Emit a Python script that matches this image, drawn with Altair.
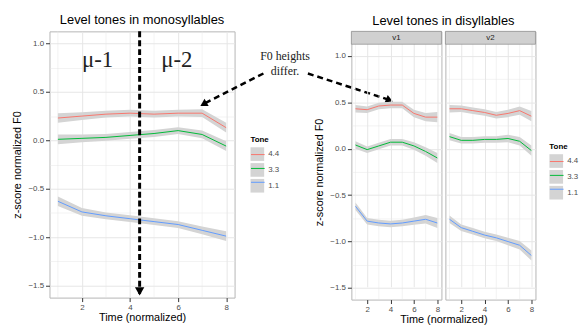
import altair as alt
import pandas as pd

# ---------------- data ----------------
time = [1, 2, 3, 4, 5, 6, 7, 8]
tones = ["4.4", "3.3", "1.1"]
tone_colors = ["#F8766D", "#00BA38", "#619CFF"]
syllables = ["v1", "v2"]

mono_44 = [0.23, 0.25, 0.27, 0.28, 0.27, 0.28, 0.28, 0.13]
mono_33 = [0.01, 0.02, 0.03, 0.05, 0.07, 0.10, 0.06, -0.06]
mono_11 = [-0.63, -0.74, -0.78, -0.81, -0.84, -0.87, -0.93, -0.99]
mono_se = [0.05, 0.04, 0.035, 0.035, 0.035, 0.035, 0.04, 0.05]

v1_44 = [0.43, 0.42, 0.46, 0.47, 0.47, 0.38, 0.34, 0.34]
v1_33 = [0.04, -0.01, 0.03, 0.07, 0.07, 0.03, -0.03, -0.10]
v1_11 = [-0.62, -0.78, -0.80, -0.81, -0.80, -0.78, -0.76, -0.80]
v2_44 = [0.43, 0.43, 0.41, 0.39, 0.36, 0.38, 0.41, 0.35]
v2_33 = [0.13, 0.09, 0.09, 0.10, 0.10, 0.11, 0.08, -0.02]
v2_11 = [-0.76, -0.85, -0.89, -0.93, -0.96, -1.00, -1.04, -1.15]
di_se = [0.04, 0.035, 0.035, 0.035, 0.035, 0.04, 0.045, 0.055]

x_major = [2, 4, 6, 8]
x_minor = [1, 3, 5, 7]
y_ticks = [-1.5, -1.25, -1.0, -0.75, -0.5, -0.25, 0.0, 0.25, 0.5, 0.75, 1.0]

boundary_x = [4.4]
mu_labels = ["\u03bc-1", "\u03bc-2"]
mu_x = [2.65, 5.95]
mu_y = [0.83, 0.83]
note_lines = ["F0 heights", "differ."]
note_x = [10.45, 10.45]
note_y = [0.87, 0.72]
arrow_x0 = [9.55, 11.4]
arrow_y0 = [0.69, 0.69]
arrow_x1 = [7.1, 14.75]
arrow_y1 = [0.38, 0.42]
arrow_angle = [240, 112]


def build(series, se):
    rows = []
    for tone, vals in zip(tones, series):
        for t, v, s in zip(time, vals, se):
            rows.append({"Time": t, "Tone": tone, "ToneKey": tone, "F0": v,
                         "lo": v - s, "hi": v + s})
    return pd.DataFrame(rows)


df_mono = build([mono_44, mono_33, mono_11], mono_se)
df_v1 = build([v1_44, v1_33, v1_11], di_se)
df_v2 = build([v2_44, v2_33, v2_11], di_se)

df_boundary = pd.DataFrame({"x": boundary_x, "top": [1.125], "bot": [-1.585], "head": [-1.56]})
df_mu = pd.DataFrame({"label": mu_labels, "x": mu_x, "y": mu_y})
df_note = pd.DataFrame({"label": note_lines, "x": note_x, "y": note_y})
df_arrow = pd.DataFrame({"x0": arrow_x0, "y0": arrow_y0, "x1": arrow_x1,
                         "y1": arrow_y1, "angle": arrow_angle})
df_xminor = pd.DataFrame({"x": x_minor})

# ---------------- styling helpers ----------------
FONT = "Liberation Sans"
SERIF = "Liberation Serif"
GRID = "#e6e6e6"
LEFT_W = 187
LEFT_H = 269
PANEL_W = 91
RIGHT_H = 271
STRIP = 13
x_scale = alt.Scale(domain=[0.65, 8.35], nice=False, zero=False)
y_scale = alt.Scale(domain=[-1.625, 1.125], nice=False, zero=False)
y_scale_r = alt.Scale(domain=[-1.625, 1.125], nice=False, zero=False, range=[RIGHT_H, STRIP])

minor_y = "abs(datum.value * 2 - round(datum.value * 2)) > 0.01"
AX = dict(domain=False, tickColor="#333333", tickSize=4, labelColor="#4d4d4d",
          labelFontSize=8, labelFont=FONT, labelOverlap=False, labelFlush=False,
          titleFont=FONT, titleFontSize=11, titleFontWeight="normal",
          titleColor="#000000", gridColor=GRID, tickCount=30)


def x_axis(title="Time (normalized)", **kw):
    return alt.Axis(values=x_major, title=title, format="d", labelPadding=2,
                    titlePadding=0, gridWidth=1, **AX, **kw)


def y_axis(title="z-score normalized F0", show=True, **kw):
    cond = dict(
        tickOpacity={"condition": {"test": minor_y, "value": 0}, "value": 1},
        gridWidth={"condition": {"test": minor_y, "value": 0.5}, "value": 1},
    )
    if show:
        return alt.Axis(values=y_ticks, title=title, labelPadding=2,
                        labelExpr="abs(datum.value * 2 - round(datum.value * 2)) > 0.01 ? '' : format(datum.value, '.1f')",
                        **cond, **AX, **kw)
    return alt.Axis(values=y_ticks, title=None, labels=False, ticks=False,
                    gridWidth=cond["gridWidth"], **{k: v for k, v in AX.items()
                                                    if not k.startswith("label")})


def legends(lx, ly):
    common = dict(orient="none", legendX=lx, symbolSize=190, rowPadding=2,
                  labelFontSize=8, labelFont=FONT, labelOffset=4)
    fill_leg = alt.Legend(legendY=ly, title="Tone", symbolType="square",
                          symbolStrokeWidth=0, labelColor="#4d4d4d",
                          titleColor="#000000", titleFontSize=8, titleFont=FONT,
                          titleFontWeight="bold", titlePadding=3, **common)
    stroke_leg = alt.Legend(legendY=ly + 11, title=None, symbolType="stroke",
                            symbolStrokeWidth=1, labelExpr="''", **common)
    return fill_leg, stroke_leg


def series_layers(df, legpos, xa, ya, ys):
    if legpos:
        fl, sl = legends(*legpos)
    else:
        fl, sl = None, None
    base = alt.Chart(df)
    rib = base.mark_area(color="#d4d4d4").encode(
        x=alt.X("Time:Q", scale=x_scale, axis=xa),
        y=alt.Y("lo:Q", scale=ys, axis=ya),
        y2="hi:Q",
        fill=alt.Fill("Tone:N", sort=tones,
                      scale=alt.Scale(range=["#d4d4d4", "#d4d4d4", "#d4d4d4"]),
                      legend=fl),
        detail="Tone:N",
    )
    line = base.mark_line(strokeWidth=1).encode(
        x=alt.X("Time:Q", scale=x_scale),
        y=alt.Y("F0:Q", scale=ys),
        stroke=alt.Stroke("ToneKey:N", sort=tones,
                          scale=alt.Scale(range=tone_colors), legend=sl),
        detail="Tone:N",
    )
    return rib, line


def title(text, dx=0):
    return alt.TitleParams(text, font=FONT, fontSize=13, fontWeight="normal",
                           color="#000000", offset=3, anchor="middle", frame="group",
                           dx=dx)


def minor_grid(h, top=0):
    return alt.Chart(df_xminor).mark_rule(color=GRID, strokeWidth=0.5).encode(
        x=alt.X("x:Q", scale=x_scale), y=alt.value(top), y2=alt.value(h))


# ---------------- left chart ----------------
rib_m, line_m = series_layers(df_mono, (203, 106), x_axis(), y_axis(titlePadding=5), y_scale)

bound_rule = alt.Chart(df_boundary).mark_rule(
    color="black", strokeWidth=3, strokeDash=[6, 3]).encode(
    x=alt.X("x:Q", scale=x_scale), y=alt.Y("top:Q", scale=y_scale), y2="bot:Q")
bound_head = alt.Chart(df_boundary).mark_point(
    shape="triangle-down", filled=True, color="black", size=90, opacity=1).encode(
    x=alt.X("x:Q", scale=x_scale), y=alt.Y("head:Q", scale=y_scale))

mu_text = alt.Chart(df_mu).mark_text(
    font=SERIF, fontSize=23, color="#222222").encode(
    x=alt.X("x:Q", scale=x_scale), y=alt.Y("y:Q", scale=y_scale), text="label:N")

note_text = alt.Chart(df_note).mark_text(
    font=SERIF, fontSize=12, color="#222222").encode(
    x=alt.X("x:Q", scale=x_scale), y=alt.Y("y:Q", scale=y_scale), text="label:N")

arrow_rule = alt.Chart(df_arrow).mark_rule(
    color="black", strokeWidth=2.5, strokeDash=[6, 4]).encode(
    x=alt.X("x0:Q", scale=x_scale), y=alt.Y("y0:Q", scale=y_scale),
    x2="x1:Q", y2="y1:Q")
arrow_head = alt.Chart(df_arrow).mark_point(
    shape="triangle", filled=True, color="black", size=70, opacity=1).encode(
    x=alt.X("x1:Q", scale=x_scale), y=alt.Y("y1:Q", scale=y_scale),
    angle=alt.Angle("angle:Q", scale=None))

left = alt.layer(minor_grid(LEFT_H), rib_m, line_m, bound_rule, bound_head, mu_text,
                 note_text, arrow_rule, arrow_head).properties(
    width=LEFT_W, height=LEFT_H, title=title("Level tones in monosyllables"),
).resolve_scale(fill="independent", stroke="independent")


# ---------------- right panels ----------------
def strip(label):
    df_s = pd.DataFrame({"label": [label]})
    rect = alt.Chart(df_s).mark_rect(fill="#d0d0d0", stroke="#8a8a8a", strokeWidth=0.7).encode(
        x=alt.value(0), x2=alt.value(PANEL_W), y=alt.value(0), y2=alt.value(STRIP))
    txt = alt.Chart(df_s).mark_text(font=FONT, fontSize=8, color="#1a1a1a").encode(
        x=alt.value(PANEL_W / 2), y=alt.value(STRIP / 2 + 0.5), text="label:N")
    return rect, txt


rib_1, line_1 = series_layers(
    df_v1, None,
    x_axis(titleX=PANEL_W + 2, titleAlign="center", titleAnchor="start"),
    y_axis(titlePadding=5), y_scale_r)
s1r, s1t = strip(syllables[0])
v1 = alt.layer(minor_grid(RIGHT_H, STRIP), rib_1, line_1, s1r, s1t).properties(
    width=PANEL_W, height=RIGHT_H, title=title("Level tones in disyllables", dx=PANEL_W / 2 + 2),
).resolve_scale(fill="independent", stroke="independent")

rib_2, line_2 = series_layers(df_v2, (105, 113), x_axis(title=None),
                              y_axis(show=False), y_scale_r)
s2r, s2t = strip(syllables[1])
v2 = alt.layer(minor_grid(RIGHT_H, STRIP), rib_2, line_2, s2r, s2t).properties(
    width=PANEL_W, height=RIGHT_H,
).resolve_scale(fill="independent", stroke="independent")

right = alt.hconcat(v1, v2, spacing=4, bounds="flush").resolve_scale(
    fill="independent", stroke="independent").resolve_legend(
    fill="independent", stroke="independent")

chart = alt.hconcat(left, right, spacing=118, bounds="flush").resolve_scale(
    fill="independent", stroke="independent").resolve_legend(
    fill="independent", stroke="independent").properties(
    padding={"left": 11, "top": 12, "right": 0, "bottom": 0},
    background="white",
).configure_view(stroke="#b5b5b5", strokeWidth=1).configure_axis(
    labelFont=FONT, titleFont=FONT)

chart.save("out.html", embed_options={"renderer": "svg", "actions": False})
